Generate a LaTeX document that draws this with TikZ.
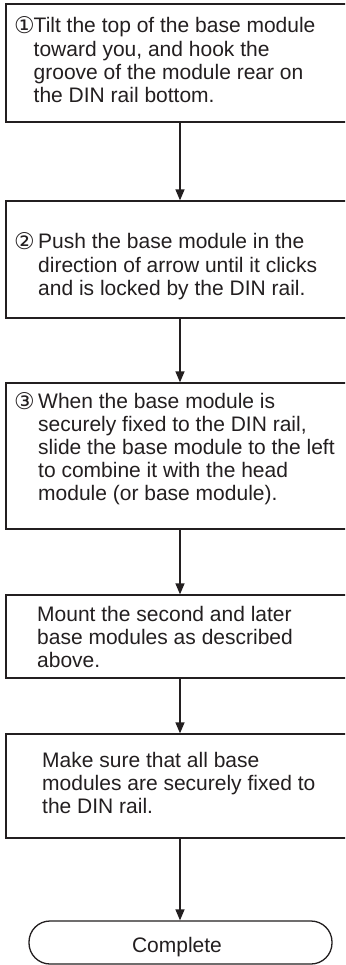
\documentclass[tikz,border=0pt]{standalone}
\usepackage{fontspec}
\setmainfont{Liberation Sans}
\newfontfamily\circfont{DejaVu Sans}
\usetikzlibrary{arrows.meta}
\definecolor{ink}{RGB}{35,31,32}
\newcommand{\cnum}[2]{\makebox[#2][l]{\hspace*{-1pt}\raisebox{-1pt}{\circfont\fontsize{23}{23.2}\selectfont #1}}}
\begin{document}
\begin{tikzpicture}[x=1pt,y=-1pt,
  stepbox/.style={draw=ink, line width=1.3pt, rectangle, inner sep=0pt, minimum width=348pt},
  termbox/.style={draw=ink, line width=1.3pt, rectangle, rounded corners=21pt, inner sep=0pt,
    minimum width=303pt, minimum height=43pt},
  txt/.style={anchor=base west, inner sep=0pt, text=ink, font=\fontsize{21}{23.2}\selectfont},
  flow/.style={draw=ink, line width=1.4pt, -{Triangle[length=11pt,width=9pt]}}]
\useasboundingbox (0,0) rectangle (345,965);
\clip (0,0) rectangle (345,965);
\fill[white] (0,0) rectangle (345,965);

\node[stepbox, minimum height=118pt] (b1) at (180,63) {};
\node[stepbox, minimum height=117pt] (b2) at (180,259.5) {};
\node[stepbox, minimum height=146pt] (b3) at (180,456) {};
\node[stepbox, minimum height=83pt] (b4) at (180,636.5) {};
\node[stepbox, minimum height=104pt] (b5) at (180,786) {};
\node[termbox] (t) at (180.5,942.5) {};

\node[txt] (t1) at (15,33) {\begin{tabular}[t]{@{}l@{}}
\cnum{①}{18.5pt}Tilt the top of the base module\\
\hspace*{18.5pt}toward you, and hook the\\
\hspace*{18.5pt}groove of the module rear on\\
\hspace*{18.5pt}the DIN rail bottom.\end{tabular}};

\node[txt] (t2) at (15,249) {\begin{tabular}[t]{@{}l@{}}
\cnum{②}{23pt}Push the base module in the\\
\hspace*{23pt}direction of arrow until it clicks\\
\hspace*{23pt}and is locked by the DIN rail.\end{tabular}};

\node[txt] (t3) at (15,408) {\begin{tabular}[t]{@{}l@{}}
\cnum{③}{23pt}When the base module is\\
\hspace*{23pt}securely fixed to the DIN rail,\\
\hspace*{23pt}slide the base module to the left\\
\hspace*{23pt}to combine it with the head\\
\hspace*{23pt}module (or base module).\end{tabular}};

\node[txt] (t4) at (37,621) {\begin{tabular}[t]{@{}l@{}}
Mount the second and later\\
base modules as described\\
above.\end{tabular}};

\node[txt] (t5) at (42,767) {\begin{tabular}[t]{@{}l@{}}
Make sure that all base\\
modules are securely fixed to\\
the DIN rail.\end{tabular}};

\node[txt, anchor=base] (t6) at (177,952) {Complete};

\draw[flow] (b1.south) -- (b2.north);
\draw[flow] (b2.south) -- (b3.north);
\draw[flow] (b3.south) -- (b4.north);
\draw[flow] (b4.south) -- (b5.north);
\draw[flow] (b5.south) -- (b5.south |- t.north);
\end{tikzpicture}
\end{document}
